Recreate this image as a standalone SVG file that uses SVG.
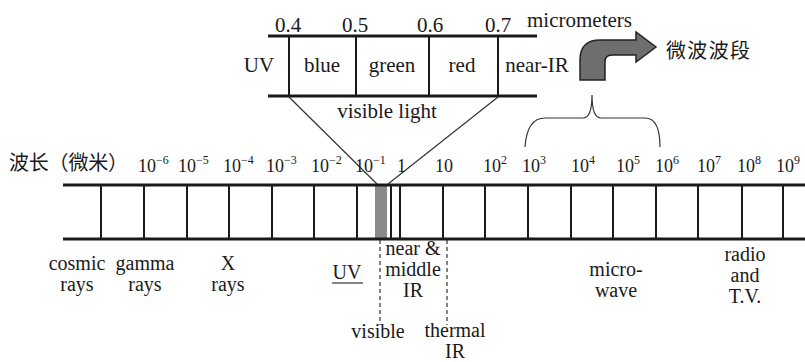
<svg xmlns="http://www.w3.org/2000/svg" width="805" height="362" viewBox="0 0 805 362">
<style>
text{font-family:"Liberation Serif","Times New Roman",serif;fill:#1a1a1a}
.l{font-size:21px}
.b{font-size:20px}
.t{font-size:18px}
.s{font-size:12px}
.c{font-family:"Noto Sans CJK SC","Noto Sans CJK TC",serif;font-size:20px}
.m{text-anchor:middle}
.h{stroke:#1a1a1a;stroke-width:3;fill:none}
.v{stroke:#1a1a1a;stroke-width:2;fill:none}
.d{stroke:#333;stroke-width:1.2;stroke-dasharray:4 3;fill:none}
.thin{stroke:#333;stroke-width:1.2;fill:none}
</style>
<g id="visible-detail">
<line class="h" x1="268" y1="36" x2="537" y2="36"/>
<line class="h" x1="268" y1="96" x2="537" y2="96"/>
<line class="v" x1="289" y1="36" x2="289" y2="96"/>
<line class="v" x1="356" y1="36" x2="356" y2="96"/>
<line class="v" x1="429" y1="36" x2="429" y2="96"/>
<line class="v" x1="498" y1="36" x2="498" y2="96"/>
<text class="l" x="275" y="32">0.4</text>
<text class="l" x="342" y="32">0.5</text>
<text class="l" x="417" y="32">0.6</text>
<text class="l" x="485" y="32">0.7</text>
<text class="l" x="527" y="27">micrometers</text>
<text class="l m" x="259" y="72">UV</text>
<text class="l m" x="322" y="72">blue</text>
<text class="l m" x="392" y="72">green</text>
<text class="l m" x="462" y="72">red</text>
<text class="l m" x="537" y="72">near-IR</text>
<text class="l m" x="387" y="118">visible light</text>
</g>
<g id="connectors">
<line class="thin" x1="289" y1="97" x2="377" y2="184"/>
<line class="thin" x1="498" y1="97" x2="388" y2="184"/>
<path class="thin" d="M525,147 Q527,118 545,118 L583,118 Q592,118 592,95 Q592,118 601,118 L645,118 Q660,118 660,147"/>
<path d="M580,80 L580,60 Q580,40 600,40 L636,40 L636,32 L656,47 L636,62 L636,55 L612,55 Q605,55 605,62 L605,80 Z" fill="#6e6e6e" stroke="#222" stroke-width="1.5"/>
<line class="d" x1="380" y1="240" x2="380" y2="325"/>
<line class="d" x1="447" y1="240" x2="447" y2="325"/>
</g>
<g id="microwave-label">
<text class="c" x="666" y="58" textLength="84">微波波段</text>
</g>
<g id="spectrum-bar">
<rect x="375" y="185" width="12" height="54" fill="#8a8a8a"/>
<line class="h" x1="63" y1="185" x2="805" y2="185"/>
<line class="h" x1="63" y1="239" x2="805" y2="239"/>
<g class="v">
<line x1="101" y1="185" x2="101" y2="239"/>
<line x1="144" y1="185" x2="144" y2="239"/>
<line x1="187" y1="185" x2="187" y2="239"/>
<line x1="229" y1="185" x2="229" y2="239"/>
<line x1="272" y1="185" x2="272" y2="239"/>
<line x1="314" y1="185" x2="314" y2="239"/>
<line x1="357" y1="185" x2="357" y2="239"/>
<line x1="391" y1="185" x2="391" y2="239"/>
<line x1="400" y1="185" x2="400" y2="239"/>
<line x1="443" y1="185" x2="443" y2="239"/>
<line x1="485" y1="185" x2="485" y2="239"/>
<line x1="528" y1="185" x2="528" y2="239"/>
<line x1="571" y1="185" x2="571" y2="239"/>
<line x1="613" y1="185" x2="613" y2="239"/>
<line x1="656" y1="185" x2="656" y2="239"/>
<line x1="698" y1="185" x2="698" y2="239"/>
<line x1="742" y1="185" x2="742" y2="239"/>
<line x1="783" y1="185" x2="783" y2="239"/>
</g>
</g>
<g id="wavelength-scale">
<text class="c" x="9" y="170" textLength="119">波长（微米）</text>
<text class="t" x="138" y="172">10<tspan class="s" dy="-8">−6</tspan></text>
<text class="t" x="178" y="172">10<tspan class="s" dy="-8">−5</tspan></text>
<text class="t" x="223" y="172">10<tspan class="s" dy="-8">−4</tspan></text>
<text class="t" x="266" y="172">10<tspan class="s" dy="-8">−3</tspan></text>
<text class="t" x="311" y="172">10<tspan class="s" dy="-8">−2</tspan></text>
<text class="t" x="355" y="172">10<tspan class="s" dy="-8">−1</tspan></text>
<text class="t" x="397" y="172">1</text>
<text class="t" x="435" y="172">10</text>
<text class="t" x="483" y="172">10<tspan class="s" dy="-8">2</tspan></text>
<text class="t" x="522" y="172">10<tspan class="s" dy="-8">3</tspan></text>
<text class="t" x="571" y="172">10<tspan class="s" dy="-8">4</tspan></text>
<text class="t" x="616" y="172">10<tspan class="s" dy="-8">5</tspan></text>
<text class="t" x="655" y="172">10<tspan class="s" dy="-8">6</tspan></text>
<text class="t" x="697" y="172">10<tspan class="s" dy="-8">7</tspan></text>
<text class="t" x="737" y="172">10<tspan class="s" dy="-8">8</tspan></text>
<text class="t" x="776" y="172">10<tspan class="s" dy="-8">9</tspan></text>
</g>
<g id="band-labels">
<text class="b m" x="77" y="270">cosmic</text>
<text class="b m" x="77" y="291">rays</text>
<text class="b m" x="145" y="270">gamma</text>
<text class="b m" x="145" y="291">rays</text>
<text class="b m" x="228" y="270">X</text>
<text class="b m" x="228" y="291">rays</text>
<text class="b m" x="347" y="279">UV</text>
<line class="thin" x1="332" y1="283" x2="363" y2="283"/>
<text class="b m" x="413" y="255">near &amp;</text>
<text class="b m" x="413" y="276">middle</text>
<text class="b m" x="413" y="297">IR</text>
<text class="b m" x="616" y="276">micro-</text>
<text class="b m" x="616" y="297">wave</text>
<text class="b m" x="745" y="261">radio</text>
<text class="b m" x="745" y="282">and</text>
<text class="b m" x="745" y="303">T.V.</text>
<text class="b m" x="378" y="338">visible</text>
<text class="b m" x="455" y="337">thermal</text>
<text class="b m" x="455" y="358">IR</text>
</g>
</svg>
